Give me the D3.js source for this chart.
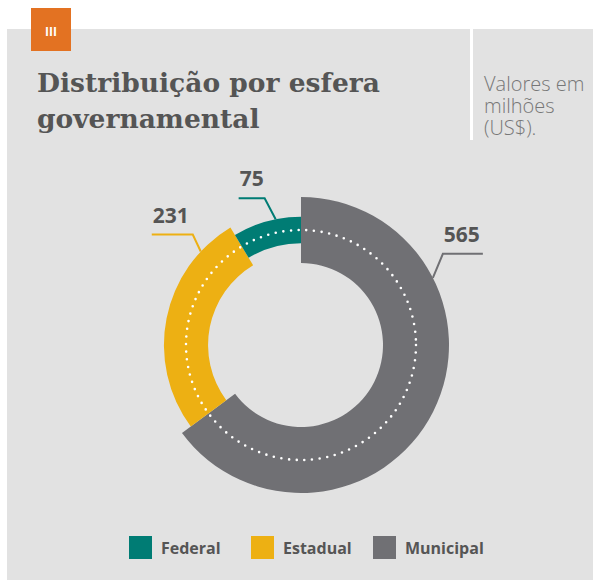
<html>
<head>
    <title>Distribuição por esfera governamental</title>
    <style>
        body { margin: 0; background: #ffffff; }
        svg text { font-family: "Open Sans", "Noto Sans", sans-serif; }
    </style>
</head>
<body>
    <svg width="593" height="580"></svg>

    <script src="https://cdn.jsdelivr.net/npm/d3@7/dist/d3.min.js"></script>
    <script>
        // chart data
        const categories = ["Municipal", "Estadual", "Federal"];
        const values = [565, 231, 75];
        const colors = ["#707074", "#edb013", "#007c74"];
        const legendOrder = ["Federal", "Estadual", "Municipal"];
        const titleLines = ["Distribuição por esfera", "governamental"];
        const noteLines = ["Valores em", "milhões", "(US$)."];

        const svg = d3.select("svg");
        const cx = 301, cy = 345, midR = 115;

        // background panel + badge
        svg.append("rect").attr("x", 7).attr("y", 29).attr("width", 593).attr("height", 560).attr("fill", "#e2e2e2");
        svg.append("rect").attr("x", 31).attr("y", 8).attr("width", 40).attr("height", 43).attr("fill", "#e37222");
        svg.append("text").attr("x", 51).attr("y", 36).attr("text-anchor", "middle")
            .attr("fill", "#fff").attr("font-size", 12).attr("font-weight", 700).text("III");

        // separator
        svg.append("rect").attr("x", 470).attr("y", 29).attr("width", 3).attr("height", 111).attr("fill", "#fff");

        // title
        svg.append("g").selectAll("text").data(titleLines).enter().append("text")
            .attr("x", 37).attr("y", (d, i) => 92 + i * 36)
            .style("font-family", "'DejaVu Serif', serif")
            .attr("font-size", 26.5).attr("font-weight", 700).attr("fill", "#555")
            .text(d => d);

        // unit note, one text block
        svg.append("text").attr("font-size", 20).attr("font-weight", 300).attr("fill", "#777")
            .selectAll("tspan").data(noteLines).enter().append("tspan")
            .attr("x", 484).attr("y", (d, i) => 91 + i * 22)
            .text(d => d);

        // donut: each slice centered on midR, thickness grows with value
        const pie = d3.pie().sort(null).value(d => d.value);
        const data = categories.map((c, i) => ({ name: c, value: values[i], color: colors[i] }));
        const arcs = pie(data);
        const thick = d3.scalePow().exponent(0.45).domain([0, d3.max(values)]).range([0, 66]);

        const arc = d3.arc()
            .innerRadius(d => midR - thick(d.data.value) / 2)
            .outerRadius(d => midR + thick(d.data.value) / 2);

        const g = svg.append("g").attr("transform", `translate(${cx},${cy})`);
        g.selectAll("path").data(arcs).enter().append("path")
            .attr("d", arc).attr("fill", d => d.data.color);

        // dotted guide circle
        g.append("circle").attr("r", midR).attr("fill", "none")
            .attr("stroke", "#fff").attr("stroke-width", 2.6)
            .attr("stroke-linecap", "round").attr("stroke-dasharray", "0 7.7");

        // leader lines: angle on the slice edge, elbow offset, horizontal run
        const leaders = {
            Municipal: { angle: 63, elbow: [10, -24], run: 40 },
            Estadual: { angle: 313, elbow: [-8, -17], run: -41 },
            Federal: { angle: 348.6, elbow: [-11, -21], run: -26 }
        };
        arcs.forEach(a => {
            const L = leaders[a.data.name];
            const r = midR + thick(a.data.value) / 2;
            const t = L.angle * Math.PI / 180;
            const p0 = [Math.sin(t) * r, -Math.cos(t) * r];
            const p1 = [p0[0] + L.elbow[0], p0[1] + L.elbow[1]];
            const p2 = [p1[0] + L.run, p1[1]];
            g.append("path").attr("d", d3.line()([p0, p1, p2]))
                .attr("fill", "none").attr("stroke", a.data.color).attr("stroke-width", 2);
            g.append("text")
                .attr("x", Math.min(p1[0], p2[0]) + 1).attr("y", p1[1] - 12)
                .attr("font-size", 21).attr("font-weight", 700).attr("fill", "#555")
                .text(a.data.value);
        });

        // legend
        const legendX = d3.scalePoint().domain(legendOrder).range([129, 373]);
        const lg = svg.append("g").selectAll("g").data(legendOrder).enter().append("g")
            .attr("transform", d => `translate(${legendX(d)},536)`);
        lg.append("rect").attr("width", 23).attr("height", 23)
            .attr("fill", d => colors[categories.indexOf(d)]);
        lg.append("text").attr("x", 32).attr("y", 18)
            .attr("font-size", 16).attr("font-weight", 700).attr("fill", "#555")
            .text(d => d);
    </script>
</body>
</html>
